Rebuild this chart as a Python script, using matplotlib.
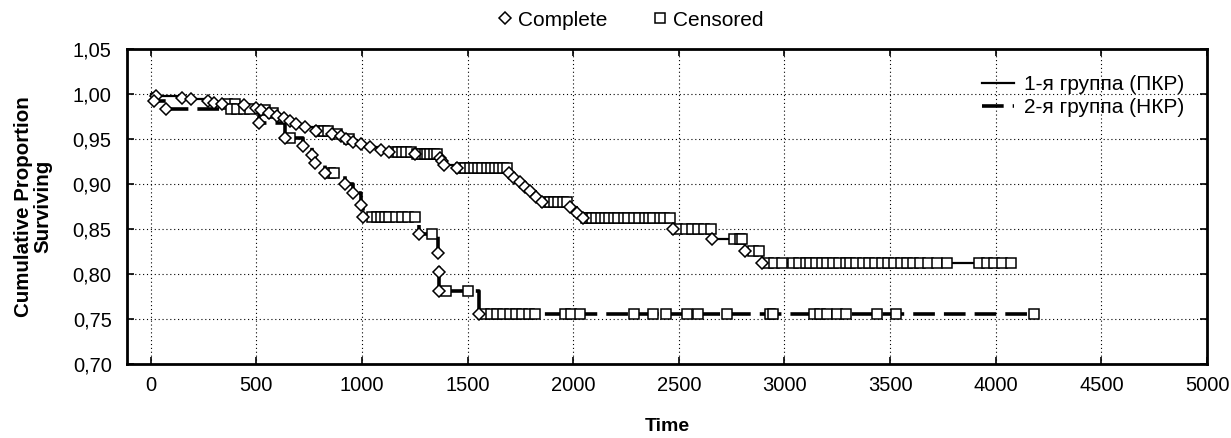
import numpy as np
import matplotlib
matplotlib.use("Agg")
import matplotlib.pyplot as plt
from matplotlib.lines import Line2D
from matplotlib.ticker import FuncFormatter

plt.rcParams['font.family'] = ['Liberation Sans', 'DejaVu Sans']

# ---- data ----
group_labels = ["1-я группа (ПКР)", "2-я группа (НКР)"]

g1_event_t = [25, 150, 190, 270, 300, 340, 440, 500, 520, 560, 600, 630, 660, 690, 730, 784,
              860, 900, 926, 960, 997, 1036, 1092, 1130, 1250, 1370, 1378, 1390, 1450, 1695,
              1720, 1747, 1770, 1795, 1825, 1851, 1984, 2017, 2045, 2472, 2658, 2812, 2893]
g1_event_s = [0.998, 0.996, 0.994, 0.992, 0.990, 0.989, 0.988, 0.985, 0.982, 0.979, 0.976,
              0.973, 0.970, 0.967, 0.963, 0.959, 0.956, 0.953, 0.950, 0.947, 0.944, 0.941,
              0.938, 0.935, 0.933, 0.929, 0.925, 0.921, 0.918, 0.912, 0.907, 0.902, 0.897,
              0.892, 0.886, 0.880, 0.874, 0.868, 0.862, 0.850, 0.839, 0.826, 0.812]
g1_cens_t = [360, 400, 540, 580, 800, 820, 840, 880, 940,
             1150, 1170, 1190, 1210, 1230, 1260, 1280, 1300, 1310, 1320, 1340, 1355,
             1470, 1490, 1510, 1530, 1550, 1570, 1590, 1610, 1630, 1650, 1670, 1685,
             1870, 1890, 1910, 1930, 1950, 1970,
             2060, 2075, 2090, 2110, 2130, 2150, 2170, 2195, 2210, 2240, 2260, 2290, 2310,
             2340, 2360, 2380, 2410, 2430, 2460, 2490,
             2535, 2560, 2590, 2620, 2650, 2760, 2790, 2800, 2850, 2880,
             2920, 2950, 2990, 3040, 3070, 3100, 3120, 3150, 3180, 3200, 3230, 3260, 3290,
             3310, 3340, 3370, 3400, 3430, 3460, 3490, 3520, 3550, 3580, 3610, 3640, 3680,
             3720, 3770, 3920, 3960, 3990, 4030, 4070]

g2_event_t = [15, 71, 511, 634, 720, 762, 776, 824, 918, 960, 994, 1004, 1269, 1362, 1364,
              1366, 1553]
g2_event_s = [0.992, 0.983, 0.968, 0.951, 0.942, 0.932, 0.923, 0.912, 0.900, 0.890, 0.877,
              0.863, 0.844, 0.823, 0.802, 0.781, 0.756]
g2_cens_t = [380, 410, 440, 470, 660, 850, 870,
             1046, 1070, 1090, 1110, 1130, 1160, 1190, 1220, 1250, 1330, 1400, 1500,
             1580, 1610, 1640, 1670, 1700, 1730, 1760, 1790, 1820, 1960, 1990, 2030, 2290,
             2380, 2440, 2540, 2590, 2730, 2930, 2945, 3140, 3170, 3200, 3250, 3290, 3440,
             3530, 4180]

x_ticks = [0, 500, 1000, 1500, 2000, 2500, 3000, 3500, 4000, 4500, 5000]
y_ticks = [0.70, 0.75, 0.80, 0.85, 0.90, 0.95, 1.00, 1.05]


def surv_at(t, ev_t, ev_s):
    s = 1.0
    for et, es in zip(ev_t, ev_s):
        if et <= t:
            s = es
    return s


fig = plt.figure(figsize=(12.31, 4.38), dpi=100)
ax = fig.add_axes([127 / 1231, 1 - 364 / 438, (1207 - 127) / 1231, (364 - 49) / 438])

groups = [
    (g1_event_t, g1_event_s, g1_cens_t, '-', 1.6),
    (g2_event_t, g2_event_s, g2_cens_t, (0, (6, 2.5)), 2.6),
]
handles = []
for (et, es, ct, ls, lw), lab in zip(groups, group_labels):
    cs = [surv_at(t, et, es) for t in ct]
    pts = sorted([(0, 1.0)] + list(zip(et, es)) + list(zip(ct, cs)))
    xs = [p[0] for p in pts]
    ys = [p[1] for p in pts]
    h, = ax.plot(xs, ys, drawstyle='steps-post', color='black', ls=ls, lw=lw, zorder=3,
                 label=lab)
    handles.append(h)
    ax.plot(ct, cs, ls='none', marker='s', ms=7, mfc='white', mec='black', mew=1.1, zorder=4)
    ax.plot(et, es, ls='none', marker='D', ms=6, mfc='white', mec='black', mew=1.1, zorder=5)

ax.set_xlim(-112, 5000)
ax.set_ylim(0.70, 1.05)
ax.set_xticks(x_ticks)
ax.set_yticks(y_ticks)
ax.yaxis.set_major_formatter(FuncFormatter(lambda v, p: f"{v:.2f}".replace('.', ',')))
ax.grid(True, color='black', ls=(0, (1, 2.5)), lw=0.8)
ax.tick_params(direction='in', top=True, right=True, length=5, width=1.2, labelsize=14.5,
               colors='black')
ax.tick_params(axis='x', pad=8.5)
ax.tick_params(axis='y', pad=11)
for sp in ax.spines.values():
    sp.set_linewidth(2)

ax.set_xlabel('Time', fontsize=14, fontweight='bold')
ax.xaxis.set_label_coords(0.5, -0.17)
ax.set_ylabel('Cumulative Proportion\nSurviving', fontsize=14.8, fontweight='bold',
              linespacing=1.0)
ax.yaxis.set_label_coords(-0.069, 0.5)

leg = ax.legend(handles=handles, loc='upper right', bbox_to_anchor=(0.979, 0.918),
                frameon=False, fontsize=15, handlelength=1.5, handletextpad=0.5,
                labelspacing=0.2, borderaxespad=0, borderpad=0)

top_handles = [
    Line2D([], [], ls='none', marker='D', ms=6.5, mfc='white', mec='black', mew=1.1),
    Line2D([], [], ls='none', marker='s', ms=7.5, mfc='white', mec='black', mew=1.1),
]
fig.legend(top_handles, ['Complete', 'Censored'], loc='center', bbox_to_anchor=(0.511, 0.954),
           ncol=2, frameon=False, fontsize=15, handletextpad=0.15, columnspacing=2.0,
           handlelength=1.0)

fig.savefig('out.png', dpi=100)
